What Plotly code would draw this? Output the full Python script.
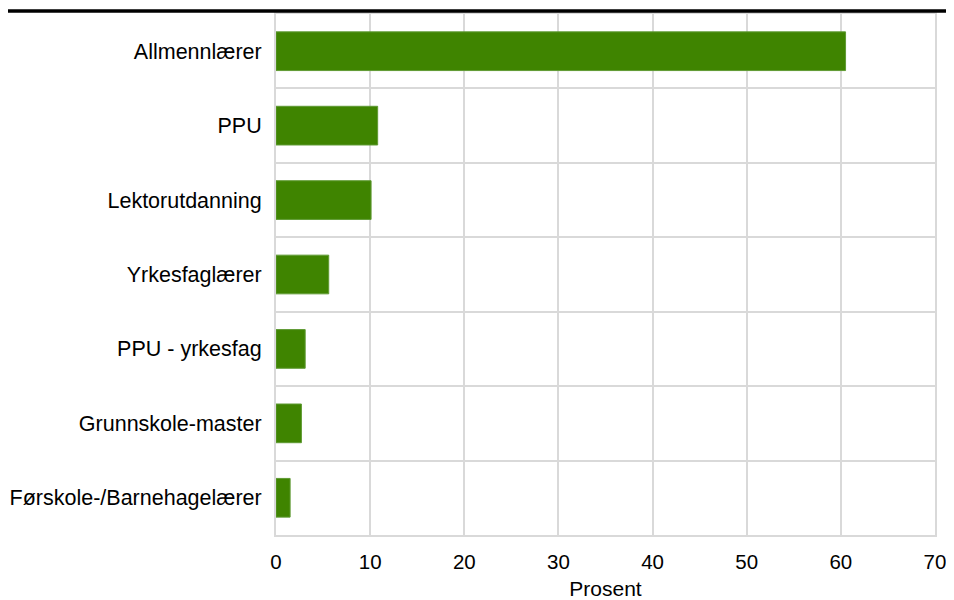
import plotly.graph_objects as go

categories = ["Allmennlærer", "PPU", "Lektorutdanning", "Yrkesfaglærer",
              "PPU - yrkesfag", "Grunnskole-master", "Førskole-/Barnehagelærer"]
values = [60.5, 10.8, 10.1, 5.6, 3.1, 2.7, 1.5]
x_ticks = [0, 10, 20, 30, 40, 50, 60, 70]

# page body has an 8px margin, so margins are shifted accordingly
W, H = 954, 600
L, R, T, B = 268, 27, 6, 73
pw, ph = W - L - R, H - T - B

grid = "#d9d9d9"
font = dict(family="Arial, Liberation Sans, sans-serif", size=21, color="#000000")

fig = go.Figure()
fig.add_trace(go.Bar(
    x=values, y=categories, orientation="h",
    marker=dict(color="#3f8400", line=dict(color="#5f9a33", width=1)),
))

fig.update_layout(
    width=W, height=H,
    margin=dict(l=L, r=R, t=T, b=B),
    paper_bgcolor="white", plot_bgcolor="white",
    font=font, bargap=0.48, showlegend=False,
    xaxis=dict(range=[0, 70], tickvals=x_ticks, showgrid=True, gridcolor=grid,
               gridwidth=2, zeroline=False, showline=True, mirror=True,
               linecolor=grid, linewidth=2, ticks="", automargin=False,
               ticklabelstandoff=7, tickfont=dict(size=20.5),
               title=dict(text="Prosent", standoff=10, font=dict(size=21))),
    yaxis=dict(autorange="reversed", tickson="boundaries", showgrid=True,
               gridcolor=grid, gridwidth=2, showline=True, mirror=True,
               linecolor=grid, linewidth=2, ticks="", automargin=False,
               ticklabelstandoff=8, tickfont=dict(size=21.5)),
    shapes=[dict(type="line", xref="paper", yref="paper",
                 x0=-L / pw, x1=1 + R / pw, y0=1 + 3 / ph, y1=1 + 3 / ph,
                 line=dict(color="black", width=3.5))],
)

fig.write_html("out.html")
